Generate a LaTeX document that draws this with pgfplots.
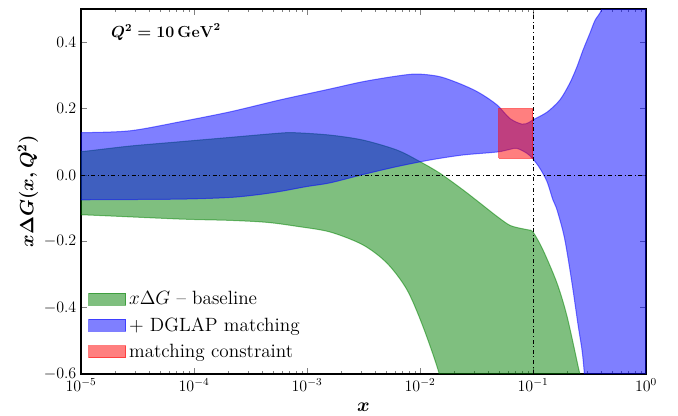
\documentclass[border=0pt]{standalone}
\usepackage{amsmath}
\usepackage{pgfplots}
\pgfplotsset{compat=1.18}
\definecolor{mgreen}{rgb}{0,0.5,0}
\begin{document}
\begin{tikzpicture}
\begin{axis}[
  at={(0,0)}, anchor=south west,
  width=423.75pt, height=273.75pt, scale only axis,
  xmode=log, xmin=1e-5, xmax=1, ymin=-0.6, ymax=0.5,
  ytick={-0.6,-0.4,-0.2,0,0.2,0.4},
  yticklabels={$-0.6$,$-0.4$,$-0.2$,$0.0$,$0.2$,$0.4$},
  tick align=inside, tick pos=both,
  major tick length=4.5pt, minor tick length=2.6pt,
  axis line style={line width=1pt},
  tick label style={font=\large},
  xlabel={$\boldsymbol{x}$}, ylabel={$\boldsymbol{x\Delta G(x,Q^2)}$},
  label style={font=\Large},
  x label style={at={(axis description cs:0.5,-0.09)}, anchor=center},
  y label style={at={(axis description cs:-0.094,0.5)}, anchor=center},
  title={$\boldsymbol{Q^2 = 10\,}\mathbf{GeV}^{\boldsymbol{2}}$},
  title style={at={(axis description cs:0.045,0.915)}, anchor=west, font=\large},
  legend style={at={(0.005,0.025)}, anchor=south west, draw=none, fill=none, font=\Large, row sep=4pt},
  legend cell align=left,
  legend image code/.code={\draw[#1] (0pt,-4.5pt) rectangle (28pt,4.5pt);},
]
\addplot[fill=mgreen, fill opacity=0.5, draw=mgreen, draw opacity=0.5, line width=0.75pt, smooth] coordinates {
(5e-6,0.062) (1e-5,0.070) (2.72e-5,0.087) (7.52e-5,0.100) (2.08e-4,0.113) (5.77e-4,0.126) (8e-4,0.127)
(1.6e-3,0.120) (3.13e-3,0.105) (6.25e-3,0.075) (1e-2,0.040) (1.5e-2,0.005) (2.4e-2,-0.045)
(3.4e-2,-0.085) (4.8e-2,-0.125) (6.25e-2,-0.152) (8.0e-2,-0.162) (9.2e-2,-0.166) (0.1,-0.172)
(0.1225,-0.226) (0.163,-0.326) (0.2,-0.426) (0.25,-0.575) (0.27,-0.63) (0.3,-0.75) (0.3,-0.9)
(1.7e-2,-0.9) (1.7e-2,-0.7) (1.47e-2,-0.596) (1.06e-2,-0.456) (7.67e-3,-0.346) (5.11e-3,-0.266)
(3.13e-3,-0.211) (1.6e-3,-0.172) (8.16e-4,-0.155) (4.43e-4,-0.143) (2.08e-4,-0.137) (7.52e-5,-0.133)
(1e-5,-0.120) (5e-6,-0.118) (3e-6,-0.118) (3e-6,0.062) (5e-6,0.062)};
\addlegendentry{$x\Delta G$ \textendash{} baseline}
\addplot[fill=blue, fill opacity=0.5, draw=blue, draw opacity=0.5, line width=0.75pt, smooth] coordinates {
(5e-6,0.125) (1e-5,0.127) (2.72e-5,0.133) (7.52e-5,0.160) (2.08e-4,0.190) (5.77e-4,0.226) (1.6e-3,0.259)
(3.13e-3,0.281) (6.25e-3,0.298) (9.4e-3,0.304) (1.5e-2,0.296) (2.4e-2,0.271) (3.4e-2,0.246)
(4.8e-2,0.211) (6.25e-2,0.170) (8.0e-2,0.153) (9.2e-2,0.158) (0.1,0.166) (0.133,0.189)
(0.173,0.226) (0.212,0.277) (0.245,0.326) (0.277,0.376) (0.319,0.427) (0.354,0.466)
(0.408,0.501) (0.5,0.6) (1.5,0.9) (1.5,-0.9)
(0.3,-0.7) (0.285,-0.6) (0.272,-0.53) (0.25,-0.45) (0.22,-0.32) (0.19,-0.19) (0.163,-0.105)
(0.150,-0.075) (0.133,-0.02) (0.115,0.02) (0.1,0.048) (8.85e-2,0.065) (7.21e-2,0.080) (6.25e-2,0.077)
(4.8e-2,0.069) (2.4e-2,0.060) (1.23e-2,0.045) (6.25e-3,0.025) (3.13e-3,0.001) (1.6e-3,-0.024)
(1e-3,-0.035) (5.77e-4,-0.050) (3.61e-4,-0.060) (2.08e-4,-0.068) (7.52e-5,-0.073) (1e-5,-0.075)
(5e-6,-0.075) (3e-6,-0.075) (3e-6,0.125) (5e-6,0.125)};
\addlegendentry{$+$ DGLAP matching}
\addplot[fill=red, fill opacity=0.5, draw=red, draw opacity=0.5, line width=0.75pt] coordinates {
(0.05,0.05) (0.1,0.05) (0.1,0.2) (0.05,0.2) (0.05,0.05)};
\addlegendentry{matching constraint}
\addplot[black, line width=0.6pt, dash dot, forget plot] coordinates {(1e-5,0) (1,0)};
\addplot[black, line width=0.6pt, dash dot, forget plot] coordinates {(0.1,-0.6) (0.1,0.5)};
\end{axis}
\path (-60.75pt,-30.75pt) rectangle (447.75pt,280.5pt);
\end{tikzpicture}
\end{document}
